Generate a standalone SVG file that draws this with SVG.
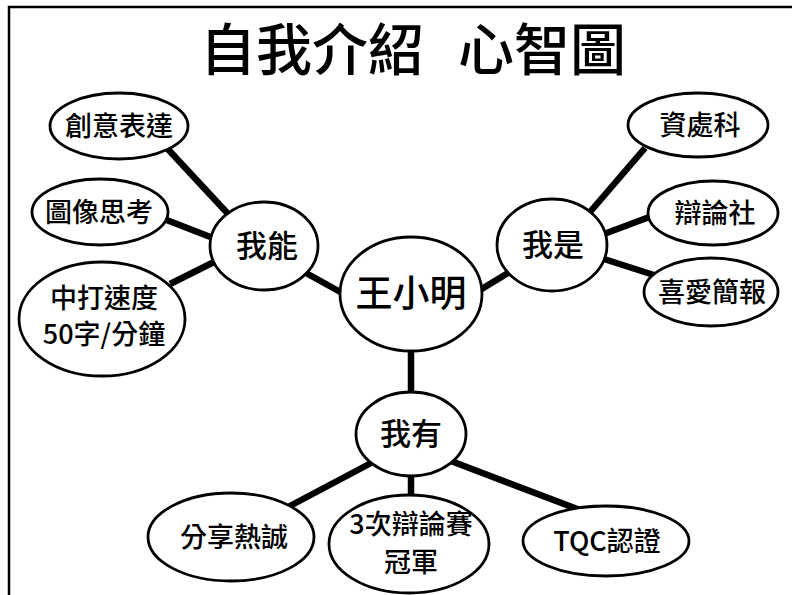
<svg xmlns="http://www.w3.org/2000/svg" width="792" height="595" viewBox="0 0 792 595">
<style>
.n ellipse{fill:#fff;stroke:#000;stroke-width:2.8}
text{font-family:"Noto Sans CJK TC","Noto Sans CJK SC",sans-serif;fill:#000;text-anchor:middle;font-weight:500}
.t{font-size:27px}
.m{font-size:31px}
.c{font-size:37px}
#links line{stroke:#000;stroke-width:6.5;stroke-linecap:butt}
</style>
<rect width="792" height="595" fill="#fff"/>
<path d="M9,595 V7 H792" fill="none" stroke="#000" stroke-width="2.5"/>
<text x="413" y="70" style="font-size:56px" xml:space="preserve">自我介紹  <tspan dx="9">心智圖</tspan></text>
<g id="links">
<line x1="165" y1="146" x2="230" y2="216"/>
<line x1="164" y1="219" x2="213" y2="238"/>
<line x1="170" y1="284" x2="214" y2="262"/>
<line x1="306" y1="273" x2="344" y2="294"/>
<line x1="480" y1="290" x2="508" y2="273"/>
<line x1="590" y1="212" x2="645" y2="148"/>
<line x1="604" y1="234" x2="652" y2="216"/>
<line x1="604" y1="259" x2="657" y2="276"/>
<line x1="411" y1="350" x2="411" y2="394"/>
<line x1="373" y1="462" x2="288" y2="507"/>
<line x1="411" y1="474" x2="411" y2="496"/>
<line x1="451" y1="461" x2="580" y2="510"/>
</g>
<g id="n-center" class="n"><ellipse cx="411" cy="294" rx="71" ry="57"/><text class="c" x="411" y="307">王小明</text></g>
<g id="n-neng" class="n"><ellipse cx="264" cy="246" rx="54" ry="44"/><text class="m" x="267" y="257">我能</text></g>
<g id="n-shi" class="n"><ellipse cx="552" cy="245" rx="55" ry="46"/><text class="m" x="553" y="256">我是</text></g>
<g id="n-you" class="n"><ellipse cx="411" cy="434" rx="55" ry="42"/><text class="m" x="411" y="445">我有</text></g>
<g id="n-chuangyi" class="n"><ellipse cx="119" cy="126" rx="69" ry="33"/><text class="t" x="119" y="136">創意表達</text></g>
<g id="n-tuxiang" class="n"><ellipse cx="100" cy="212" rx="68" ry="33"/><text class="t" x="99" y="222">圖像思考</text></g>
<g id="n-daza" class="n"><ellipse cx="102" cy="319" rx="83" ry="57"/><text class="t" x="104" y="308">中打速度</text><text class="t" x="104" y="344">50字/分鐘</text></g>
<g id="n-zichu" class="n"><ellipse cx="698" cy="125" rx="70" ry="32"/><text class="t" x="700" y="135">資處科</text></g>
<g id="n-bianlun" class="n"><ellipse cx="713" cy="213" rx="65" ry="32"/><text class="t" x="715" y="223">辯論社</text></g>
<g id="n-jianbao" class="n"><ellipse cx="711" cy="292" rx="67" ry="34"/><text class="t" x="712" y="302">喜愛簡報</text></g>
<g id="n-fenxiang" class="n"><ellipse cx="231" cy="537" rx="83" ry="44"/><text class="t" x="234" y="547">分享熱誠</text></g>
<g id="n-saishi" class="n"><ellipse cx="409" cy="544" rx="80" ry="49"/><text class="t" x="411" y="534">3次辯論賽</text><text class="t" x="411" y="572">冠軍</text></g>
<g id="n-tqc" class="n"><ellipse cx="606" cy="541" rx="83" ry="35"/><text class="t" x="607" y="551">TQC認證</text></g>
</svg>
